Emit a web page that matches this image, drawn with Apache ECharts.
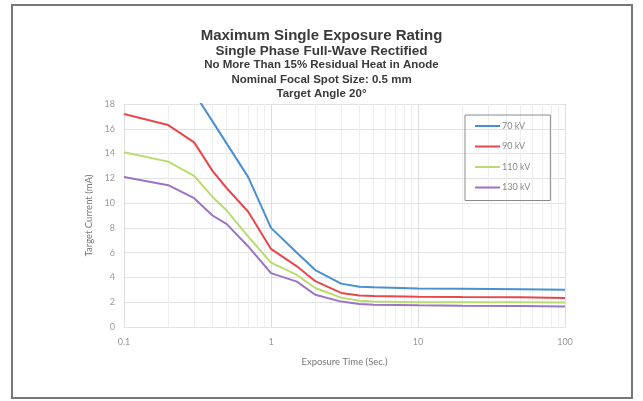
<!DOCTYPE html>
<html><head><meta charset="utf-8">
<script src="https://cdn.jsdelivr.net/npm/echarts@6/dist/echarts.min.js"></script>
<style>html,body{margin:0;padding:0;background:#fff}#c{width:643px;height:401px}</style>
</head><body><div id="c"></div>
<script>
const titleLines = ["Maximum Single Exposure Rating","Single Phase Full-Wave Rectified","No More Than 15% Residual Heat in Anode","Nominal Focal Spot Size: 0.5 mm","Target Angle 20°"];
const seriesNames = ["70 kV","90 kV","110 kV","130 kV"];
const times = [0.1, 0.2, 0.3, 0.4, 0.5, 0.7, 1, 1.5, 2, 3, 4, 5, 10, 20, 50, 100];
const kv70  = [25.0, 21.5, 18.9, 16.6, 14.8, 12.1, 8.0, 6.0, 4.6, 3.5, 3.25, 3.2, 3.1, 3.08, 3.05, 3.0];
const kv90  = [17.2, 16.3, 14.9, 12.6, 11.2, 9.3, 6.3, 4.9, 3.7, 2.75, 2.55, 2.5, 2.45, 2.42, 2.4, 2.35];
const kv110 = [14.1, 13.35, 12.2, 10.5, 9.4, 7.3, 5.2, 4.2, 3.15, 2.37, 2.12, 2.05, 2.0, 2.0, 2.0, 1.98];
const kv130 = [12.1, 11.45, 10.4, 9.0, 8.3, 6.5, 4.35, 3.66, 2.6, 2.05, 1.85, 1.8, 1.75, 1.72, 1.7, 1.66];
const minorX = [0.2,0.3,0.4,0.5,0.6,0.7,0.8,0.9,2,3,4,5,6,7,8,9,20,30,40,50,60,70,80,90];
const colors = ["#4a8fd3","#e8474c","#b8dc6e","#9b74c4"];
const allData = [kv70, kv90, kv110, kv130];

const chart = echarts.init(document.getElementById('c'), null, {renderer:'canvas'});
const titleTops = [28, 44, 59, 74, 88];
const titleSizes = [15, 13.5, 11.5, 11.5, 11.5];
const series = allData.map((d, i) => ({
  name: seriesNames[i], type: 'line', data: times.map((t, j) => [t, d[j]]),
  showSymbol: false, symbol: 'none', clip: true,
  lineStyle: {color: colors[i], width: 2}, itemStyle: {color: colors[i]},
  z: 5
}));
series[0].markLine = {
  silent: true, symbol: 'none', label: {show: false},
  lineStyle: {color: '#eeeeee', width: 1, type: 'solid'},
  data: minorX.map(v => ({xAxis: v})), z: 1, animation: false
};
chart.setOption({
  animation: false,
  backgroundColor: '#ffffff',
  title: titleLines.map((t, i) => ({
    text: t, left: 'center', top: titleTops[i], padding: 0,
    textStyle: {fontFamily: 'Liberation Sans, Arial', fontWeight: 'bold', fontSize: titleSizes[i], color: '#3a3a3a'}
  })),
  graphic: [{type: 'rect', shape: {x: 12, y: 5, width: 620, height: 393}, style: {fill: 'none', stroke: '#777', lineWidth: 2}, silent: true}],
  legend: {
    orient: 'vertical', left: 465, top: 115, width: 88,
    padding: [4, 20, 6, 10], itemGap: 6.5, itemWidth: 25, itemHeight: 14,
    borderColor: '#8a8a8a', borderWidth: 1,
    textStyle: {fontFamily: 'Lato', fontSize: 9, color: '#888', padding: [0,0,0,-3], lineHeight: 14, height: 14},
    data: seriesNames.map(n => ({name: n, icon: 'path://M0,6 L25,6 L25,8 L0,8 Z'}))
  },
  grid: {left: 124, right: 78, top: 104, bottom: 74, containLabel: false},
  xAxis: {
    type: 'log', logBase: 10, min: 0.1, max: 100,
    name: 'Exposure Time (Sec.)', nameLocation: 'middle', nameGap: 30,
    nameTextStyle: {fontFamily: 'Lato', fontSize: 9.5, color: '#777'},
    axisLine: {show: true, lineStyle: {color: '#e2e2e2'}},
    axisTick: {show: false},
    axisLabel: {fontFamily: 'Lato', fontSize: 9, color: '#999', margin: 11,
      formatter: v => (Math.abs(v - 0.1) < 1e-9 ? '0.1' : String(Math.round(v)))},
    splitLine: {show: true, lineStyle: {color: '#dedede'}},
    minorTick: {show: false}
  },
  yAxis: {
    type: 'value', min: 0, max: 18, interval: 2,
    name: 'Target Current (mA)', nameLocation: 'middle', nameGap: 26, nameRotate: 90,
    nameTextStyle: {fontFamily: 'Lato', fontSize: 9.5, color: '#777'},
    axisLine: {show: false}, axisTick: {show: false},
    axisLabel: {fontFamily: 'Lato', fontSize: 9, color: '#999', margin: 9},
    splitLine: {show: true, lineStyle: {color: '#e2e2e2'}}
  },
  series: series
});
</script></body></html>
